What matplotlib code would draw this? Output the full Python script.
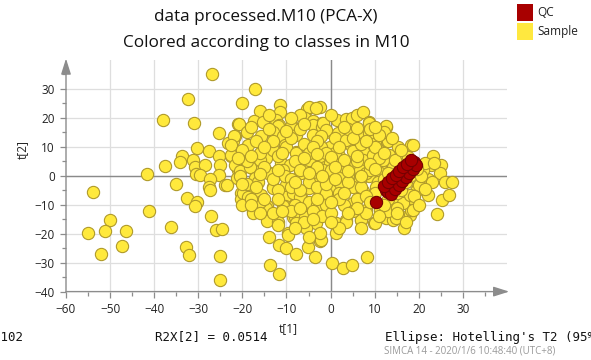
import matplotlib
matplotlib.use('Agg')
import matplotlib.pyplot as plt
from matplotlib.patches import Rectangle

# scores (t[1], t[2])
sample_scores = [
    # left outliers
    (-26.9, 35.2), (-32.3, 26.4), (-37.9, 19.4), (-31.0, 18.4), (-20.0, 25.2), (-21.1, 17.9),
    (-25.3, 14.8), (-30.2, 9.6), (-27.6, 8.4), (-33.8, 6.9), (-34.2, 4.6), (-37.5, 3.5),
    (-31.3, 5.3), (-30.8, 3.0), (-28.5, 3.7), (-30.5, 0.7), (-29.6, 0.3), (-41.7, 0.7),
    (-25.3, 7.0), (-25.0, 3.7), (-25.3, 0.3), (-27.4, -1.1), (-27.6, -3.7), (-27.4, -4.8),
    (-23.9, -3.2), (-35.1, -3.0), (-53.8, -5.6), (-32.5, -7.8), (-30.2, -8.9), (-30.8, -10.6),
    (-41.2, -12.3), (-27.1, -13.8), (-50.1, -15.1), (-51.1, -19.1), (-55.0, -19.7), (-46.3, -19.1),
    (-36.1, -17.6), (-25.9, -18.7), (-24.7, -18.3), (-47.4, -24.3), (-52.0, -26.9), (-32.9, -24.5),
    (-32.0, -27.2), (-25.0, -27.7), (-25.0, -36.0),
    # left edge of the cloud
    (-21.7, 13.6), (-22.1, 11.9), (-23.2, 11.3), (-22.6, 7.0), (-21.0, 2.1), (-21.3, -0.8),
    (-20.4, -5.8), (-20.4, -7.9), (-23.6, -3.1), (-22.5, 7.3), (-21.7, 3.8), (-21.9, 13.9),
    # top of the cloud
    (-17.2, 30.1), (-16.1, 22.5), (-11.4, 24.3), (-11.5, 22.0), (-20.8, 17.9), (-17.4, 19.0),
    (-15.3, 18.6), (-12.3, 19.4), (-11.7, 17.5), (-8.7, 17.1), (-6.4, 21.1), (-5.4, 23.1),
    (-5.0, 23.6), (-2.5, 23.8), (-5.9, 20.0), (-4.0, 18.8), (-2.0, 18.2), (1.4, 19.4),
    (3.5, 19.6), (4.8, 20.0), (6.0, 21.1), (7.3, 21.9), (8.8, 18.5), (12.6, 16.7),
    (-7.0, 21.1), (-3.2, 23.3), (-11.9, 17.1), (-8.9, 17.1), (-4.0, 17.6), (-2.0, 16.9),
    (-1.7, 18.2), (8.7, 18.2), (12.6, 17.1),
    # upper middle
    (-22.5, 10.7), (-18.7, 10.7), (-15.7, 13.6), (-13.0, 15.3), (-10.8, 13.6), (-7.8, 14.2),
    (-4.0, 14.2), (-1.0, 15.3), (1.7, 12.5), (3.9, 14.2), (6.9, 14.2), (10.3, 12.5),
    (12.9, 11.9), (-14.2, 9.6), (-10.4, 10.7), (-7.8, 8.2), (-4.4, 5.5), (-11.2, 4.4),
    (-17.9, 2.7), (-14.6, 6.1), (-9.3, 3.8), (-5.9, 3.8), (-2.5, 9.6), (-1.0, 15.9),
    (1.7, 14.8), (6.6, 14.2), (8.8, 14.8), (13.0, 11.9), (15.2, 10.1), (18.3, 10.7),
    (-0.2, 10.1), (4.7, 10.7), (7.3, 8.4), (10.7, 9.0), (13.3, 7.3), (16.0, 7.3),
    (-1.0, 5.5), (2.0, 6.1), (5.0, 4.4), (8.4, 4.9), (11.1, 3.8), (14.1, 3.2),
    (-2.1, 10.1), (-2.1, 13.6), (0.9, 13.0), (3.5, 12.5), (-20.6, 1.5), (-18.3, 3.2),
    (-16.1, 5.5), (-13.0, 9.0), (-10.0, 10.1), (-7.8, 7.8), (-4.8, 5.5), (-2.5, 6.7),
    (-0.2, 4.4), (2.0, 6.7), (5.1, 8.4), (7.3, 5.5), (9.6, 7.3), (11.8, 5.5),
    # middle
    (-17.2, -0.8), (-13.8, 0.9), (-10.8, 2.1), (-7.0, 0.9), (-4.0, -0.8), (-1.7, 2.1),
    (1.3, -0.2), (3.9, 0.3), (6.6, 2.1), (8.8, -0.2), (11.1, 0.9), (-20.6, -0.2),
    (-14.2, 0.9), (-16.4, -2.0), (-19.5, -5.4), (-17.9, -6.6), (-15.7, -6.6), (-13.1, -3.7),
    (-10.0, -3.1), (-10.4, -0.2), (-6.6, 0.9), (-3.6, -0.2), (-2.9, -2.5), (-6.6, -7.2),
    (-10.4, -8.9), (-14.5, -10.6), (-17.6, -12.3), (-1.0, -0.2), (2.0, -0.2), (6.6, -1.4),
    (8.1, 0.9), (10.7, -2.0), (5.0, -3.7), (2.0, -3.7), (-0.2, -4.8), (0.9, -7.7),
    (5.0, -9.5), (8.1, -11.8), (11.1, -11.8),
    # lower part
    (-19.8, -6.0), (-18.7, -7.2), (-13.0, -4.3), (-10.4, -7.2), (-8.5, -6.0), (-7.0, -7.2),
    (-4.8, -4.3), (-2.5, -6.0), (-0.6, -7.7), (2.0, -6.0), (7.3, -5.4), (10.3, -3.7),
    (-17.6, -12.7), (-14.7, -11.0), (-10.4, -10.6), (-8.5, -14.1), (-5.9, -13.5), (-3.2, -16.4),
    (-1.0, -13.5), (1.3, -16.4), (1.3, -19.8), (3.5, -15.2), (6.9, -15.2), (9.9, -16.4),
    (12.6, -14.6), (14.1, -15.2), (-14.4, -15.6), (-11.9, -16.0), (-14.0, -21.0), (-9.7, -19.8),
    (-11.7, -23.9), (-10.2, -25.0), (-7.9, -27.0), (-5.1, -24.5), (-3.6, -27.9), (-2.5, -22.4),
    (-13.8, -30.8), (-11.8, -34.0), (0.3, -30.2), (2.8, -31.9), (4.9, -30.8), (8.3, -28.1),
    (16.6, -18.1), (16.1, -14.1), (14.7, -11.2), (-1.4, -11.8), (3.5, -15.8), (7.0, -15.2),
    (10.0, -16.4), (14.9, -14.6), (-2.1, -22.1), (-10.8, -10.6), (-8.1, -14.1), (-5.9, -14.1),
    (-7.8, -16.4), (-5.5, -18.1), (-2.5, -19.8), (-4.8, -21.0), (-9.7, -20.4),
    # right side
    (18.6, 10.5), (23.3, 6.7), (22.8, 3.6), (25.0, 3.8), (24.7, 0.9), (22.0, -1.0),
    (26.0, -2.3), (27.5, -2.2), (23.1, -2.2), (25.2, -8.5), (26.8, -6.8), (24.1, -13.1),
    (22.0, -6.8), (19.8, -3.7), (17.9, -13.5), (19.4, -5.4), (20.1, -3.1), (20.9, 2.1),
    (21.3, 4.4), (18.6, -8.9), (18.3, -11.8), (23.5, 4.4), (14.1, -8.3), (16.4, -9.5),
    (17.9, -6.6), (18.6, -11.8), (14.0, -3.0), (15.0, -6.0), (13.0, -8.0), (16.0, -5.0),
    (17.0, -2.0), (18.0, 0.0), (12.0, -1.0), (13.0, -12.0), (15.0, -11.0), (19.0, -7.0),
    (20.0, -10.0), (12.0, -4.0), (20.5, 0.0), (19.5, 2.5), (16.5, 4.0), (14.5, 5.5),
    (17.5, 6.5), (21.5, -4.5),
    # inside the cloud
    (-19, 15), (-17, 12), (-13, 12), (-9, 13), (-6, 11), (-3, 12), (-20, 9), (-16, 8),
    (-12, 7), (-8, 5), (-5, 8), (-3, 3), (-19, 5), (-15, 3), (-13, -1), (-9, -1), (-7, 2),
    (-5, -2), (-3, -4), (-1, -6), (-19, -3), (-17, -4), (-12, -5), (-9, -4), (-7, -5),
    (-5, -9), (-3, -10), (-12, -8), (-8, -10), (-4, -12), (-1, -10), (-16, -9), (-20, -10),
    (-18, -8), (-13, -13), (-9, -12), (-6, -16), (-2, -14), (0, 2), (1, 8), (3, 3), (4, -2),
    (6, 5), (7, -4), (9, 2), (10, -6), (3, -10), (6, -8), (8, -13), (0, -13), (2, -18),
    (5, -12), (10, 10), (4, 16), (7, 11), (11, 6), (12, 15), (-1, -3), (1, -1), (8, -7),
    (9, 16), (2, -8),
    (-18, 17), (-14, 16), (-10, 15.5), (-7, 16), (-4, 10), (-1, 8), (2, 10), (5, 13),
    (8, 12), (11, 14), (14, 13), (16, 9), (-21, 6), (-18, 7), (-15, 10), (-11, 8),
    (-6, 6), (-3, 7.5), (0, 6.5), (3, 5.5), (6, 7), (9, 4), (12, 8), (15, 1),
    (-20, -3), (-16, 0.5), (-12, 2), (-8, -2), (-5, 1), (-2, 0), (1, 3), (4, 1.5),
    (7, 0), (10, 2.5), (13, 1), (-18, -10), (-15, -8), (-11, -12), (-7, -11), (-3, -8),
    (0, -9), (3, -6), (6, -11), (9, -9), (12, -10), (15, -13), (-16, -13), (-12, -17),
    (-8, -18), (-4, -15), (0, -16), (4, -13), (7, -18), (11, -14), (17, -16), (-6, 18),
    (0, 21), (3, 17), (-9, 20), (-14, 21), (10, 17), (6, 16.5),
]

qc_t1 = [10.3, 12.6, 13.0, 13.3, 13.7, 14.0, 14.3, 14.6, 15.0, 15.3, 15.6, 15.9, 16.2,
         16.5, 16.8, 17.1, 17.4, 17.7, 18.0, 18.3, 18.6, 18.8, 14.2, 16.0, 17.2,
         13.8, 14.6, 15.4, 16.2, 17.0, 17.8, 18.6, 19.3,
         12.2, 13.0, 13.9, 14.8, 15.6, 16.4, 17.3, 18.2]
qc_t2 = [-9.1, -4.8, -5.6, -4.0, -5.4, -3.1, -2.5, -1.6, -2.0, -0.8, -0.2, 0.4, 0.8,
         1.4, 2.1, 2.2, 2.9, 3.3, 3.5, 3.9, 4.4, 4.9, -4.3, -1.0, 1.5,
         -6.2, -4.6, -3.3, -1.8, -0.4, 1.0, 2.4, 3.6,
         -3.6, -2.2, -0.9, 0.4, 1.8, 3.0, 4.2, 5.5]

sample_t1, sample_t2 = zip(*sample_scores)

x_ticks = [-60, -50, -40, -30, -20, -10, 0, 10, 20, 30]
y_ticks = [-40, -30, -20, -10, 0, 10, 20, 30]

yellow = '#FFE93C'
yellow_edge = '#B09A2A'
red = '#A80000'
red_edge = '#760000'
axis_grey = '#8C8C8C'

plt.rcParams['font.family'] = ['Open Sans', 'DejaVu Sans']

W, H = 591, 360
fig = plt.figure(figsize=(W / 100, H / 100), dpi=100)
ax = fig.add_axes([66 / W, 68.4 / H, 441 / W, 231.6 / H])
ax.set_xlim(-60, 40)
ax.set_ylim(-40, 40)

# grid
for x in x_ticks[1:]:
    ax.plot([x, x], [-40, 40], color='#DEDEDE', lw=0.9, zorder=0)
for y in y_ticks[1:]:
    ax.plot([-60, 40], [y, y], color='#DEDEDE', lw=0.9, zorder=0)
ax.plot([0, 0], [-40, 40], color='#8A8A8A', lw=1.0, zorder=1)
ax.plot([-60, 40], [0, 0], color='#8A8A8A', lw=1.0, zorder=1)

ax.scatter(sample_t1, sample_t2, s=78, c=yellow, edgecolors=yellow_edge, linewidths=0.8, zorder=3)
ax.scatter(qc_t1, qc_t2, s=78, c=red, edgecolors=red_edge, linewidths=0.8, zorder=4)

# axes with arrows
for s in ax.spines.values():
    s.set_visible(False)
arrow = dict(arrowstyle='-|>,head_length=0.95,head_width=0.3', color=axis_grey, lw=1.0,
             mutation_scale=10, shrinkA=0, shrinkB=0)
ax.annotate('', xy=(40.5, -40), xytext=(-60, -40), arrowprops=arrow, annotation_clip=False)
ax.annotate('', xy=(-60, 40.5), xytext=(-60, -40), arrowprops=arrow, annotation_clip=False)

ax.set_xticks(x_ticks)
ax.set_yticks(y_ticks)
ax.set_xticks(range(-55, 36, 10), minor=True)
ax.set_yticks(range(-35, 36, 10), minor=True)
ax.tick_params(which='both', direction='out', color=axis_grey, length=4, width=0.9,
               labelsize=8.5, labelcolor='#222222', pad=4)
ax.tick_params(which='minor', length=3)

fig.text(22 / W, 1 - 150 / H, 't[2]', rotation=90, ha='center', va='center', fontsize=8.5, color='#222222')
fig.text(288 / W, 1 - 329 / H, 't[1]', ha='center', va='center', fontsize=8.5, color='#222222')

# titles
fig.text(266 / W, 1 - 17 / H, 'data processed.M10 (PCA-X)', ha='center', va='center', fontsize=12.3, color='#111111')
fig.text(266 / W, 1 - 43 / H, 'Colored according to classes in M10', ha='center', va='center', fontsize=12.3, color='#111111')

# legend
fig.patches.append(Rectangle((516.5 / W, 1 - 20.5 / H), 16.5 / W, 16.5 / H, transform=fig.transFigure,
                             facecolor=red, edgecolor='none'))
fig.patches.append(Rectangle((516.5 / W, 1 - 39.5 / H), 16.5 / W, 16.5 / H, transform=fig.transFigure,
                             facecolor='#FFE83F', edgecolor='none'))
fig.text(537 / W, 1 - 12.5 / H, 'QC', ha='left', va='center', fontsize=8.5, color='#222222')
fig.text(537 / W, 1 - 32 / H, 'Sample', ha='left', va='center', fontsize=8.5, color='#222222')

# bottom info line
fig.text(23 / W, 1 - 337 / H, 'R2X[1] = 0.102', ha='right', va='center', family='DejaVu Sans Mono', fontsize=9, color='#111111')
fig.text(155 / W, 1 - 337 / H, 'R2X[2] = 0.0514', ha='left', va='center', family='DejaVu Sans Mono', fontsize=9, color='#111111')
fig.text(385 / W, 1 - 337 / H, "Ellipse: Hotelling's T2 (95%)", ha='left', va='center', family='DejaVu Sans Mono', fontsize=9, color='#111111')
fig.text(384 / W, 1 - 351 / H, 'SIMCA 14 - 2020/1/6 10:48:40 (UTC+8)', ha='left', va='center', fontsize=7, color='#9A9A9A')

fig.savefig('out.png', dpi=100)
